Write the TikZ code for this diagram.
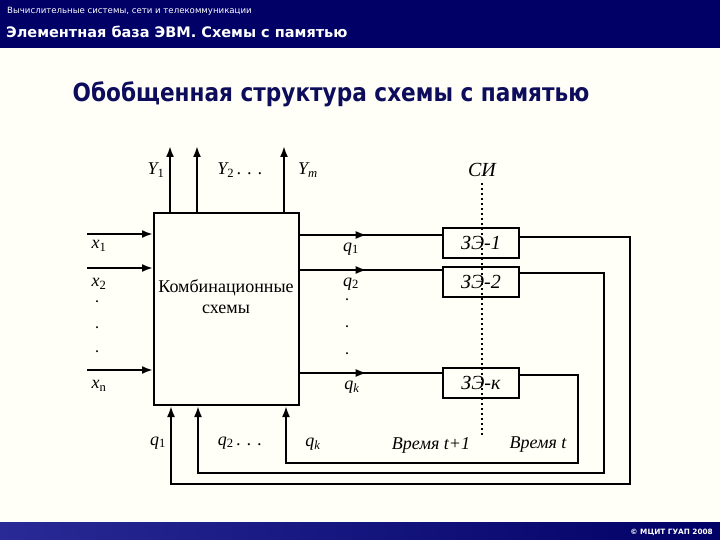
\documentclass[tikz,border=0pt]{standalone}
\usepackage{fontspec}
\usepackage{graphicx}
\setmainfont{Liberation Serif}
\newfontfamily\hdrfont{DejaVu Sans}
\usetikzlibrary{arrows.meta,decorations.markings,positioning}

\definecolor{hdrblue}{HTML}{000066}
\definecolor{footlight}{HTML}{2A2A96}
\definecolor{pagebg}{HTML}{FFFFF8}
\definecolor{headtxt}{HTML}{0D0D5C}

\tikzset{
  tip/.tip={Latex[length=11pt,width=8pt]},
  wire/.style={line width=2pt},
  arr/.style={wire,-tip},
  midarr/.style={wire,postaction={decorate},
    decoration={markings,mark=at position #1 with {\arrow{tip}}}},
  csbox/.style={draw,line width=2pt,minimum width=145pt,minimum height=192pt,inner sep=0pt},
  zebox/.style={draw,line width=2pt,minimum width=76pt,minimum height=30pt,inner sep=0pt,
    font=\itshape\fontsize{20}{22}\selectfont},
  lbl/.style={inner sep=0pt,font=\itshape\fontsize{18}{20}\selectfont},
  dotlbl/.style={inner sep=0pt,font=\bfseries\fontsize{12}{12}\selectfont}
}

\begin{document}
\begin{tikzpicture}[x=1pt,y=-1pt]
\useasboundingbox (0,0) rectangle (720,540);
\fill[pagebg] (0,0) rectangle (720,540);
% header and footer
\fill[hdrblue] (0,0) rectangle (720,48);
\node[anchor=west,inner sep=0pt,white,font=\hdrfont\fontsize{8.6}{10}\selectfont] (subhdr) at (7,11)
  {Вычислительные системы, сети и телекоммуникации};
\node[anchor=west,inner sep=0pt,white,font=\hdrfont\bfseries\fontsize{14.5}{16}\selectfont] (hdr) at (6,32)
  {Элементная база ЭВМ. Схемы с памятью};
\node[inner sep=0pt,text=headtxt,font=\hdrfont\bfseries\fontsize{25}{28}\selectfont] (title) at (331,94)
  {\scalebox{0.865}[1]{Обобщенная структура схемы с памятью}};
\shade[left color=footlight,right color=hdrblue] (0,522) rectangle (720,540);
\node[anchor=east,inner sep=0pt,white,font=\hdrfont\bfseries\fontsize{7.3}{9}\selectfont] (copy) at (713,532)
  {© МЦИТ ГУАП 2008};

% blocks
\node[csbox] (cs) at (226.5,309) {};
\node[align=center,inner sep=0pt,font=\fontsize{18}{21}\selectfont] (cstext) at (226,297) {Комбинационные\\схемы};
\node[lbl,font=\itshape\fontsize{20}{22}\selectfont] (si) at (482,170) {СИ};
\coordinate (sitop) at (482,183);
\coordinate (sibot) at (482,435);
\draw[line width=2pt,dash pattern=on 2pt off 3pt] (sitop) -- (sibot);
\node[zebox] (ze1) at (481,243) {ЗЭ-1};
\node[zebox] (ze2) at (481,282) {ЗЭ-2};
\node[zebox] (zek) at (481,382.5) {ЗЭ-к};

% outputs Y
\coordinate (ytop1) at (170,146);
\coordinate (ytop2) at (197,146);
\coordinate (ytopm) at (284,146);
\foreach \c in {ytop1,ytop2,ytopm}
  \draw[arr] (cs.north -| \c) -- (\c);
\node[lbl] (ly1) at (156,170) {\textit{Y}\textsubscript{\upshape 1}};
\node[lbl] (ly2) at (240,170) {\textit{Y}\textsubscript{\upshape 2}\,. . .};
\node[lbl] (lym) at (308,170) {\textit{Y}\textsubscript{\textit{m}}};

% inputs x
\coordinate (x1) at (87,234);
\coordinate (x2) at (87,268);
\coordinate (xn) at (87,370);
\foreach \c in {x1,x2,xn}
  \draw[arr] (\c) -- (\c -| cs.west);
\node[lbl] (lx1) at (99,246) {\textit{x}\textsubscript{\upshape 1}};
\node[lbl] (lx2) at (99,284) {\textit{x}\textsubscript{\upshape 2}};
\foreach \yy/\nm in {302/a,328/b,352/c}
  \node[dotlbl] (xd\nm) at (97,\yy) {.};
\node[lbl] (lxn) at (99,386) {\textit{x}\textsubscript{\upshape n}};

% state outputs q to memory elements
\coordinate (q1) at (360,235);
\coordinate (q2) at (360,270);
\coordinate (qk) at (360,373);
\foreach \c/\z in {q1/ze1,q2/ze2,qk/zek}
  \draw[midarr=.47] (\c -| cs.east) -- (\c -| \z.west);
\node[lbl] (lq1) at (351,249) {\textit{q}\textsubscript{\upshape 1}};
\node[lbl] (lq2) at (351,284) {\textit{q}\textsubscript{\upshape 2}};
\foreach \yy/\nm in {300/a,327/b,354/c}
  \node[dotlbl] (qd\nm) at (347,\yy) {.};
\node[lbl] (lqk) at (352,387) {\textit{q}\textsubscript{\textit{k}}};

% feedback
\coordinate (r1) at (630,237);
\coordinate (b1) at (171,484);
\coordinate (r2) at (604,273);
\coordinate (b2) at (198,473);
\coordinate (rk) at (578,375);
\coordinate (bk) at (286,463);
\foreach \z/\r/\b in {ze1/r1/b1,ze2/r2/b2,zek/rk/bk}
  \draw[arr] (\z.east |- \r) -- (\r) |- (\b) -- (\b |- cs.south);
\node[lbl] (lb1) at (158,443) {\textit{q}\textsubscript{\upshape 1}};
\node[lbl] (lb2) at (240,443) {\textit{q}\textsubscript{\upshape 2}\,. . .};
\node[lbl] (lbk) at (313,444) {\textit{q}\textsubscript{\textit{k}}};
\node[lbl] (t1) at (431,445) {Время \textit{t}+1};
\node[lbl] (t0) at (538,445) {Время \textit{t}};
\end{tikzpicture}
\end{document}
